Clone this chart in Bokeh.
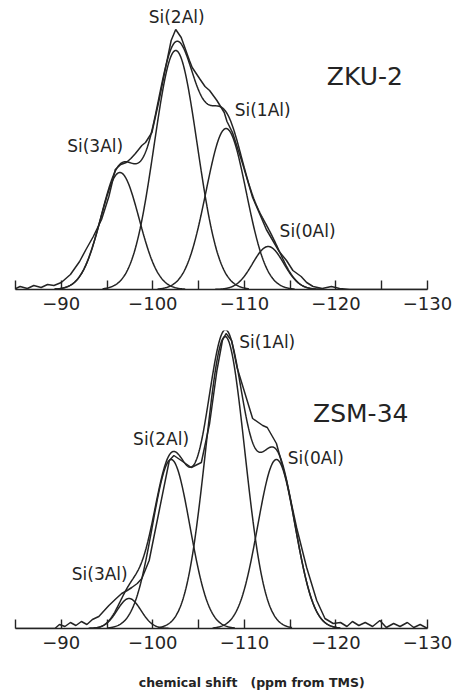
import numpy as np
from bokeh.plotting import figure
from bokeh.layouts import column
from bokeh.models import Range1d, FixedTicker
from bokeh.core.properties import value
from bokeh.embed import file_html
from bokeh.resources import INLINE

# ---------------- data ----------------
# Upper spectrum: ZKU-2 (intensity in arbitrary units)
top_title = "ZKU-2"
top_names = ["Si(3Al)", "Si(2Al)", "Si(1Al)", "Si(0Al)"]
top_centers = [-96.4, -102.5, -108.0, -112.6]
top_heights = [117, 239, 161, 43]
top_sigmas = [2.1, 2.35, 2.2, 1.7]

top_exp_shift = [-84.8, -85.5, -86.3, -87.0, -87.8, -88.5, -89.2, -90.0, -91.0, -92.0,
                 -92.7, -93.5, -94.4, -95.2, -95.9, -96.5, -97.1, -97.6, -98.1, -98.8,
                 -99.2, -99.9, -100.7, -101.4, -102.0, -102.5, -103.1, -104.0, -104.3, -105.1,
                 -105.7, -106.2, -107.0, -107.8, -108.1, -108.7, -109.8, -110.9, -112.4, -113.8,
                 -114.6, -115.3, -116.2, -116.8, -117.5, -118.5, -119.5, -120.4, -121.5, -130.0]
top_exp_int = [0, 3, 1, 4, 2, 5, 4, 7, 15, 28,
               40, 53, 70, 93, 120, 125, 127, 131, 136, 144,
               147, 157, 190, 222, 249, 260, 252, 229, 222, 211,
               203, 199, 189, 177, 168, 157, 126, 92, 60, 38,
               29, 19, 13, 7, 3, 1, 3, 1, 0, 0]

# Lower spectrum: ZSM-34
bot_title = "ZSM-34"
bot_names = ["Si(3Al)", "Si(2Al)", "Si(1Al)", "Si(0Al)"]
bot_centers = [-97.4, -102.0, -107.9, -113.5]
bot_heights = [30, 169, 292, 169]
bot_sigmas = [1.3, 2.05, 2.15, 2.05]

bot_exp_shift = [-84.5, -89.3, -89.8, -90.4, -91.0, -91.6, -92.2, -92.8, -93.4, -94.1,
                 -95.2, -96.0, -96.6, -97.2, -97.7, -98.3, -98.8, -99.6, -100.7, -101.8,
                 -102.3, -103.1, -104.2, -105.3, -106.2, -107.0, -107.6, -108.0, -108.6, -109.2,
                 -110.2, -110.9, -112.0, -112.5, -113.5, -114.6, -115.7, -116.8, -117.9, -118.8,
                 -119.7, -120.5, -121.2, -121.8, -122.5, -123.2, -124.0, -124.8, -125.5, -126.3,
                 -127.0, -127.8, -128.5, -129.2, -130.0]
bot_exp_int = [0, 0, 4, 2, 6, 3, 7, 4, 9, 12,
               23, 30, 35, 38, 41, 45, 50, 68, 118, 168,
               173, 168, 161, 166, 205, 258, 288, 295, 288, 261,
               231, 210, 203, 201, 185, 148, 101, 61, 28, 10,
               5, 6, 2, 7, 3, 6, 2, 8, 1, 5,
               2, 6, 1, 4, 0]

tick_values = [-90, -100, -110, -120, -130]
tick_labels = ["\u221290", "\u2212100", "\u2212110", "\u2212120", "\u2212130"]
minor_tick_values = [-85, -95, -105, -115, -125]
x_title = "chemical\u00a0shift\u00a0\u00a0\u00a0(ppm\u00a0from\u00a0TMS)"

INK = "#242424"
FONT = "DejaVu Sans"


def gauss(x, c, h, s):
    return h * np.exp(-((x - c) ** 2) / (2.0 * s * s))


def panel(height, border_top, border_bottom, ymax, names, centers, heights, sigmas,
          exp_x, exp_y, label_pos, title, title_pos):
    p = figure(width=456, height=height, output_backend="svg", toolbar_location=None,
               x_range=Range1d(-85, -130), y_range=Range1d(0, ymax),
               y_axis_location=None, min_border_left=15, min_border_right=29,
               min_border_top=border_top, min_border_bottom=border_bottom,
               background_fill_color="white", border_fill_color="white")
    p.outline_line_color = None
    p.grid.visible = False
    ax = p.xaxis[0]
    ax.ticker = FixedTicker(ticks=tick_values, minor_ticks=minor_tick_values)
    ax.major_label_overrides = {v: t for v, t in zip(tick_values, tick_labels)}
    ax.major_tick_in = 9
    ax.major_tick_out = 0
    ax.minor_tick_in = 9
    ax.minor_tick_out = 0
    ax.axis_line_width = 1.6
    ax.axis_line_color = INK
    ax.major_tick_line_width = 1.4
    ax.minor_tick_line_width = 1.4
    ax.major_tick_line_color = INK
    ax.minor_tick_line_color = INK
    ax.major_label_text_font = FONT
    ax.major_label_text_font_size = "18px"
    ax.major_label_text_color = INK
    ax.major_label_standoff = 7

    # fitted component curves
    lo = min(c - 3.4 * s for c, s in zip(centers, sigmas))
    hi = max(c + 3.4 * s for c, s in zip(centers, sigmas))
    total_x = np.linspace(lo, hi, 600)
    total_y = np.zeros_like(total_x)
    for c, h, s in zip(centers, heights, sigmas):
        xx = np.linspace(c - 3.4 * s, c + 3.4 * s, 200)
        p.line(xx, gauss(xx, c, h, s), line_color=INK, line_width=1.5)
        total_y += gauss(total_x, c, h, s)
    # simulated envelope
    p.line(total_x, total_y, line_color=INK, line_width=1.5)
    # experimental spectrum
    p.line(exp_x, exp_y, line_color=INK, line_width=1.5)

    lx = [pos[0] for pos in label_pos]
    ly = [pos[1] for pos in label_pos]
    p.text(x=lx, y=ly, text=names, text_font=value(FONT), text_font_size="17px",
           text_color=INK, text_align="center", text_baseline="middle")
    p.text(x=[title_pos[0]], y=[title_pos[1]], text=[title], text_font=value(FONT),
           text_font_size="25px", text_color=INK, text_align="left", text_baseline="middle")
    return p


p1 = panel(325, 0, 36, 289, top_names, top_centers, top_heights, top_sigmas,
           top_exp_shift, top_exp_int,
           [(-93.7, 144), (-102.6, 273), (-112.0, 180), (-116.9, 59)],
           top_title, (-119.0, 213))

p2 = panel(343, 5, 40, 298, bot_names, bot_centers, bot_heights, bot_sigmas,
           bot_exp_shift, bot_exp_int,
           [(-94.2, 55), (-100.9, 190), (-112.5, 287), (-117.8, 171)],
           bot_title, (-117.5, 215))

# strip holding the x-axis title under the lower spectrum
p3 = figure(width=456, height=25, output_backend="svg", toolbar_location=None,
            x_range=Range1d(-85, -130), y_range=Range1d(0, 1),
            x_axis_location=None, y_axis_location=None,
            min_border_left=15, min_border_right=29, min_border_top=0, min_border_bottom=0,
            background_fill_color="white", border_fill_color="white")
p3.outline_line_color = None
p3.grid.visible = False
p3.text(x=[-110.8], y=[0.44], text=[x_title], text_font=value(FONT),
        text_font_size="12.5px", text_font_style="bold", text_color=INK,
        text_align="center", text_baseline="middle")

layout = column(p1, p2, p3, spacing=0)
open("out.html", "w").write(file_html(layout, INLINE))
